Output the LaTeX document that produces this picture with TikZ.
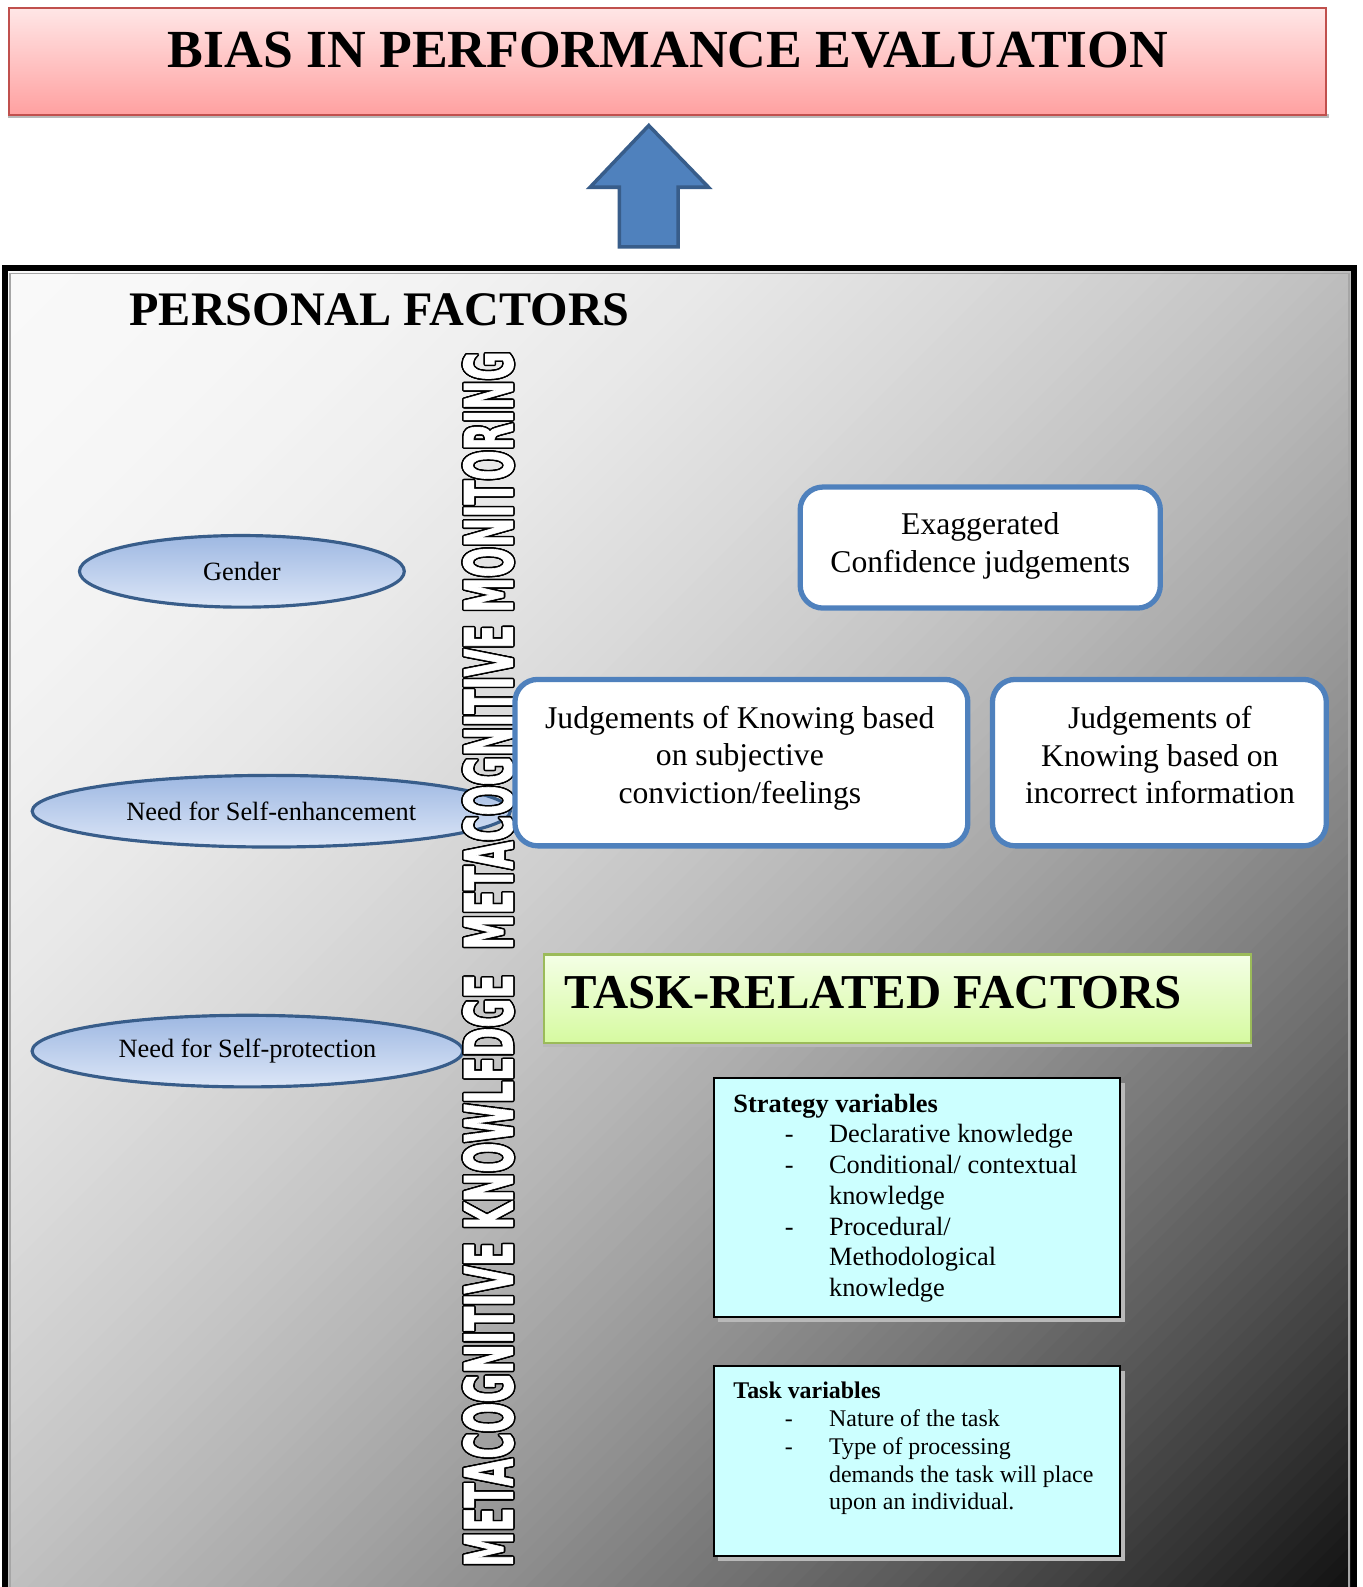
\documentclass[tikz,border=0pt]{standalone}
\usepackage{fontspec}
\usepackage{graphicx}
\setmainfont{Liberation Serif}
\newfontfamily\condsans[FakeBold=1.6]{DejaVu Sans}
\usetikzlibrary{shapes.geometric}

\definecolor{titletop}{RGB}{255,230,230}
\definecolor{titlebot}{RGB}{255,160,160}
\definecolor{titleedge}{RGB}{192,80,77}
\definecolor{arrowfill}{RGB}{79,129,189}
\definecolor{arrowedge}{RGB}{56,93,138}
\definecolor{elltop}{RGB}{158,184,226}
\definecolor{ellbot}{RGB}{220,230,247}
\definecolor{judgeedge}{RGB}{79,129,189}
\definecolor{tasktop}{RGB}{244,255,230}
\definecolor{taskbot}{RGB}{214,250,160}
\definecolor{taskedge}{RGB}{155,187,89}
\definecolor{varfill}{RGB}{204,255,255}

% the rotated heading, squeezed to a fixed length and letter height
\newcommand\mcheading{\resizebox{345.7pt}{14.0pt}{\condsans\bfseries METACOGNITIVE KNOWLEDGE\ \ METACOGNITIVE MONITORING}}

\tikzset{
  factor/.style={ellipse, draw=arrowedge, line width=0.9pt,
    top color=elltop, bottom color=ellbot, inner sep=0pt,
    font=\fontsize{7.5}{9}\selectfont},
  judgebox/.style={draw=judgeedge, line width=1.5pt, fill=white,
    rounded corners=6.5pt, inner sep=0pt},
  judgetext/.style={align=center, inner sep=0pt,
    font=\fontsize{9}{10.6}\selectfont},
  varbox/.style={draw=black, line width=0.6pt, fill=varfill, inner sep=0pt},
  varshadow/.style={fill=gray!55, draw=none, inner sep=0pt},
  vartext/.style={align=left, inner sep=0pt, anchor=north west},
  vhead/.style={rotate=90, inner sep=0pt},
}

\begin{document}
\begin{tikzpicture}[x=0.010119cm, y=-0.010119cm]
\useasboundingbox (0,0) rectangle (1346,1568);
\fill[white] (0,0) rectangle (1346,1568);

% ---- title banner ----
\fill[gray!55] (8,113) rectangle (1313,117);
\node[draw=titleedge, line width=0.6pt, top color=titletop, bottom color=titlebot,
  minimum width=1305*0.2869pt, minimum height=106*0.2869pt, inner sep=0pt,
  anchor=north west] (title) at (8,7) {};
\node[font=\fontsize{15.25}{18}\selectfont\bfseries, inner sep=0pt] (titletext) at (660,50)
  {BIAS IN PERFORMANCE EVALUATION};

% ---- block arrow pointing up to the banner ----
\draw[arrowedge, line width=1pt, fill=arrowfill, line join=miter]
  (641,124) -- (700,185) -- (670,185) -- (670,244) -- (612,244) -- (612,185) -- (583,185) -- cycle;

% ---- personal factors frame: diagonal grey ramp built from thin bands ----
\begin{scope}
\clip (8,268) rectangle (1336,1568);
\foreach \i in {0,...,149}{
  \pgfmathsetmacro\bandt{(\i+0.5)/150}
  \pgfmathsetmacro\bandg{0.975-0.915*\bandt*\bandt}
  \definecolor{bandc}{gray}{\bandg}
  \fill[bandc, rotate around={-45:(672,923)}]
    (-261+\i*12.44,-100) rectangle (-261+\i*12.44+13.5,1950);
}
\end{scope}
\begin{scope}
\clip (0,0) rectangle (1346,1568);
\draw[gray!70, line width=0.4pt] (10,270) rectangle (1333,1600);
\draw[black, line width=1.6pt] (5,1600) -- (5,265) -- (1338,265) -- (1338,1600);
\end{scope}

\node[font=\fontsize{13.7}{16}\selectfont\bfseries, inner sep=0pt] (personal) at (375,306)
  {PERSONAL FACTORS};

% ---- personal factor ellipses ----
\node[factor, minimum width=322*0.2869pt, minimum height=71*0.2869pt] (gender) at (239,564.5) {Gender};
\node[factor, minimum width=474*0.2869pt, minimum height=71*0.2869pt] (enh) at (268,801.5) {};
\node[inner sep=0pt, font=\fontsize{7.5}{9}\selectfont] (enhtext) at (268,801.5) {Need for Self-enhancement};
\node[factor, minimum width=427*0.2869pt, minimum height=71*0.2869pt] (prot) at (244.5,1038.5) {Need for Self-protection};

% ---- rotated heading with hollow letters ----
\foreach \i in {0,...,15}
  \node[vhead, text=black] (vshadow\i) at ([shift={(\i*22.5:1.5)}]482.5,947.5) {\mcheading};
\node[vhead, text=white] (vhead) at (482.5,947.5) {\mcheading};

% ---- judgement boxes ----
\node[judgebox, minimum width=357*0.2869pt, minimum height=120*0.2869pt] (exag) at (968.5,541) {};
\node[judgetext] (exagtext) at (968.5,539.5) {Exaggerated\\Confidence judgements};

\node[judgebox, minimum width=449*0.2869pt, minimum height=165*0.2869pt] (subj) at (732.5,753.5) {};
\node[judgetext] (subjtext) at (731,749) {Judgements of Knowing based\\on subjective\\conviction/feelings};

\node[judgebox, minimum width=331*0.2869pt, minimum height=165*0.2869pt] (incor) at (1145.5,753.5) {};
\node[judgetext] (incortext) at (1146,746) {Judgements of\\Knowing based on\\incorrect information};

% ---- task-related factors banner ----
\fill[gray!55] (536,1030) rectangle (1237,1034);
\node[draw=taskedge, line width=0.6pt, top color=tasktop, bottom color=taskbot,
  minimum width=701*0.2869pt, minimum height=88*0.2869pt, inner sep=0pt,
  anchor=north west] (task) at (536,942) {};
\node[font=\fontsize{13.85}{17}\selectfont\bfseries, inner sep=0pt, anchor=west] (tasktext) at (557,981)
  {TASK-RELATED FACTORS};

% ---- strategy variables ----
\node[varshadow, minimum width=403*0.2869pt, minimum height=237*0.2869pt, anchor=north west] (stratsh) at (709,1069) {};
\node[varbox, minimum width=403*0.2869pt, minimum height=237*0.2869pt, anchor=north west] (strat) at (704,1064) {};
\node[vartext, font=\fontsize{7.5}{8.75}\selectfont] (strattext) at (724,1080)
  {\textbf{Strategy variables}\\
   \hspace*{14.6pt}\makebox[12.6pt][l]{-}Declarative knowledge\\
   \hspace*{14.6pt}\makebox[12.6pt][l]{-}Conditional/ contextual\\
   \hspace*{27.2pt}knowledge\\
   \hspace*{14.6pt}\makebox[12.6pt][l]{-}Procedural/\\
   \hspace*{27.2pt}Methodological\\
   \hspace*{27.2pt}knowledge};

% ---- task variables ----
\node[varshadow, minimum width=403*0.2869pt, minimum height=188*0.2869pt, anchor=north west] (tasksh) at (709,1354) {};
\node[varbox, minimum width=403*0.2869pt, minimum height=188*0.2869pt, anchor=north west] (taskvar) at (704,1349) {};
\node[vartext, font=\fontsize{6.8}{7.9}\selectfont] (taskvartext) at (724,1365)
  {\textbf{Task variables}\\
   \hspace*{14.6pt}\makebox[12.6pt][l]{-}Nature of the task\\
   \hspace*{14.6pt}\makebox[12.6pt][l]{-}Type of processing\\
   \hspace*{27.2pt}demands the task will place\\
   \hspace*{27.2pt}upon an individual.};
\end{tikzpicture}
\end{document}
